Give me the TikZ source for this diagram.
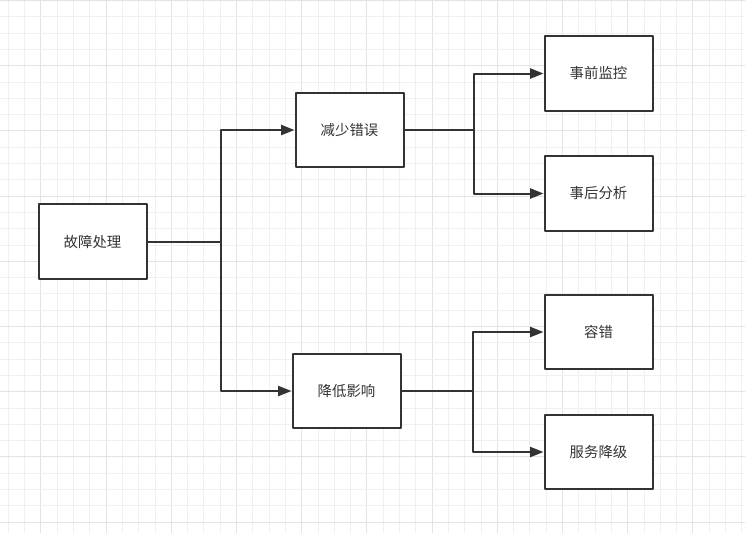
\documentclass[tikz,border=0pt]{standalone}
\usepackage{fontspec}
\newfontfamily\cjk{Noto Sans CJK SC}
\usetikzlibrary{arrows.meta}
\definecolor{ink}{HTML}{333333}
\definecolor{gridminor}{HTML}{F0F0F0}
\definecolor{gridmajor}{HTML}{E3E3E3}
\begin{document}
\begin{tikzpicture}[x=0.75pt,y=-0.75pt, font=\cjk\fontsize{10.8}{12}\selectfont, line join=round, >={Triangle[length=10pt,width=7.5pt]},
	box/.style={draw=ink, line width=1.5pt, fill=white, text=ink, minimum width=81pt, minimum height=56pt, inner sep=0pt},
	link/.style={draw=ink, line width=1.5pt, ->}]
	\useasboundingbox (0,0) rectangle (745,533);
	\fill[white] (0,0) rectangle (745,533);
	% grid
	\foreach \k in {0,...,45}
	{
		\pgfmathtruncatemacro{\m}{mod(\k,4)}
		\ifnum\m=2
			\draw[gridmajor, line width=0.75pt] (8.3+16.3*\k,0) -- (8.3+16.3*\k,533);
		\else
			\draw[gridminor, line width=0.75pt] (8.3+16.3*\k,0) -- (8.3+16.3*\k,533);
		\fi
	}
	\foreach \k in {0,...,32}
	{
		\pgfmathtruncatemacro{\m}{mod(\k,4)}
		\ifnum\m=0
			\draw[gridmajor, line width=0.75pt] (0,0.5+16.3*\k) -- (745,0.5+16.3*\k);
		\else
			\draw[gridminor, line width=0.75pt] (0,0.5+16.3*\k) -- (745,0.5+16.3*\k);
		\fi
	}
	% boxes
	\node[box] (fault) at (92.5,241.5) {故障处理};
	\node[box] (reduce) at (349.5,130) {减少错误};
	\node[box] (lower) at (346.5,391) {降低影响};
	\node[box] (monitor) at (598.5,73.5) {事前监控};
	\node[box] (analyse) at (598.5,193.5) {事后分析};
	\node[box] (tolerate) at (598.5,332) {容错};
	\node[box] (degrade) at (598.5,452) {服务降级};
	% links
	\draw[link] (fault.east) -- ++(73,0) |- (reduce.west);
	\draw[link] (fault.east) -- ++(73,0) |- (lower.west);
	\draw[link] (reduce.east) -- ++(69,0) |- (monitor.west);
	\draw[link] (reduce.east) -- ++(69,0) |- (analyse.west);
	\draw[link] (lower.east) -- ++(71,0) |- (tolerate.west);
	\draw[link] (lower.east) -- ++(71,0) |- (degrade.west);
\end{tikzpicture}
\end{document}
